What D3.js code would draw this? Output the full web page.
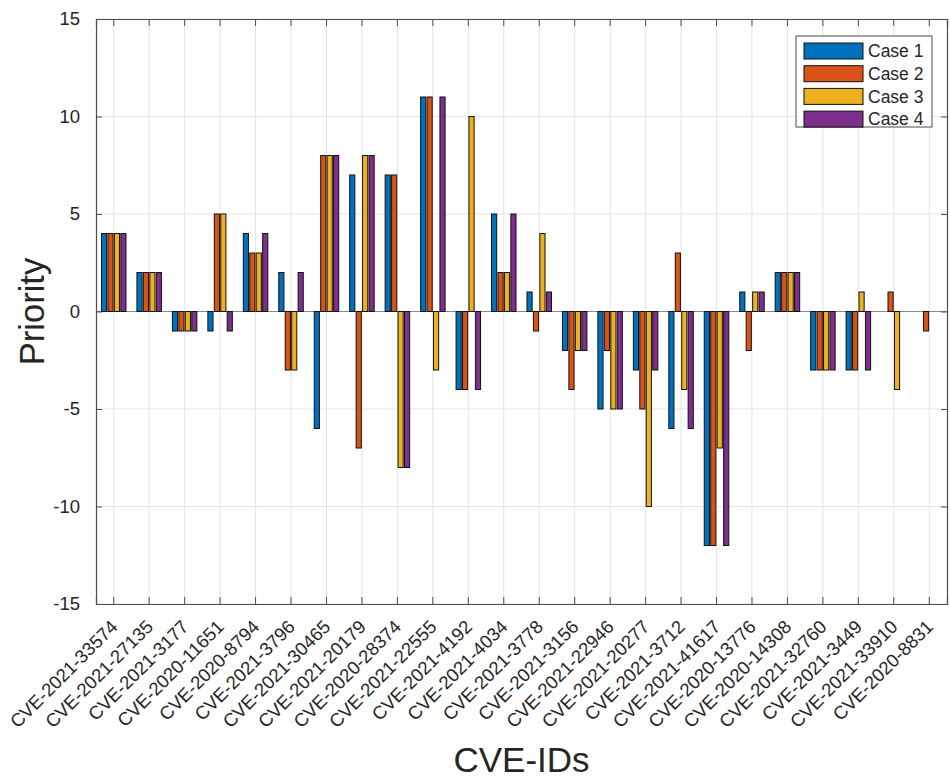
<!DOCTYPE html>
<html>
<head>
<meta charset="utf-8">
<script src="https://cdn.jsdelivr.net/npm/d3@7"></script>
<style>
  body { margin: 0; background: #fff; }
  text { font-family: "Liberation Sans", Arial, Helvetica, sans-serif; fill: #262626; }
</style>
</head>
<body>
<div id="chart"></div>
<script>
var cveIds = [
  "CVE-2021-33574", "CVE-2021-27135", "CVE-2021-3177", "CVE-2020-11651",
  "CVE-2020-8794", "CVE-2021-3796", "CVE-2021-30465", "CVE-2021-20179",
  "CVE-2020-28374", "CVE-2021-22555", "CVE-2021-4192", "CVE-2021-4034",
  "CVE-2021-3778", "CVE-2021-3156", "CVE-2021-22946", "CVE-2021-20277",
  "CVE-2021-3712", "CVE-2021-41617", "CVE-2020-13776", "CVE-2020-14308",
  "CVE-2021-32760", "CVE-2021-3449", "CVE-2021-33910", "CVE-2020-8831"
];
var caseNames = ["Case 1", "Case 2", "Case 3", "Case 4"];
var case1 = [4, 2, -1, -1, 4, 2, -6, 7, 7, 11, -4, 5, 1, -2, -5, -3, -6, -12, 1, 2, -3, -3, 0, 0];
var case2 = [4, 2, -1, 5, 3, -3, 8, -7, 7, 11, -4, 2, -1, -4, -2, -5, 3, -12, -2, 2, -3, -3, 1, -1];
var case3 = [4, 2, -1, 5, 3, -3, 8, 8, -8, -3, 10, 2, 4, -2, -5, -10, -4, -7, 1, 2, -3, 1, -4, 0];
var case4 = [4, 2, -1, -1, 4, 2, 8, 8, -8, 11, -4, 5, 1, -2, -5, -3, -6, -12, 1, 2, -3, -3, 0, 0];
var yTicks = [-15, -10, -5, 0, 5, 10, 15];
var colors = ["#0072BD", "#D95319", "#EDB120", "#7E2F8E"];

var allCases = [case1, case2, case3, case4];
var rows = cveIds.map(function (id, i) {
  return {
    id: id,
    values: caseNames.map(function (c, j) {
      return { name: c, value: allCases[j][i] };
    })
  };
});

var width = 950;
var height = 778;
var margin = { left: 96, right: 3, top: 19, bottom: 174 };
var plotW = width - margin.left - margin.right;
var plotH = height - margin.top - margin.bottom;

var svg = d3.select("#chart")
  .append("svg")
  .attr("width", width)
  .attr("height", height);

var g = svg.append("g")
  .attr("transform", "translate(" + margin.left + "," + margin.top + ")");

var x0 = d3.scaleBand().domain(cveIds).range([0, plotW]).padding(0);
var bw = x0.bandwidth();
// matlab grouped bar: group takes n/(n+1.5) of the slot
var groupW = 4 / 5.5;
var x1 = d3.scaleBand()
  .domain(caseNames)
  .range([bw * (1 - groupW) / 2, bw * (1 + groupW) / 2])
  .paddingInner(0.2)
  .paddingOuter(0.1);
var y = d3.scaleLinear().domain([-15, 15]).range([plotH, 0]);
var color = d3.scaleOrdinal().domain(caseNames).range(colors);

// grid
g.append("g")
  .selectAll("line")
  .data(cveIds)
  .enter()
  .append("line")
  .attr("x1", function (d) { return x0(d) + bw / 2; })
  .attr("x2", function (d) { return x0(d) + bw / 2; })
  .attr("y1", 0)
  .attr("y2", plotH)
  .attr("stroke", "#e3e3e3")
  .attr("stroke-width", 1);

g.append("g")
  .selectAll("line")
  .data(yTicks)
  .enter()
  .append("line")
  .attr("x1", 0)
  .attr("x2", plotW)
  .attr("y1", function (d) { return y(d); })
  .attr("y2", function (d) { return y(d); })
  .attr("stroke", "#e3e3e3")
  .attr("stroke-width", 1);

// baseline
g.append("line")
  .attr("x1", 0)
  .attr("x2", plotW)
  .attr("y1", y(0))
  .attr("y2", y(0))
  .attr("stroke", "#8a8a8a")
  .attr("stroke-width", 1);

// bars
var groups = g.selectAll("g.cve")
  .data(rows)
  .enter()
  .append("g")
  .attr("class", "cve")
  .attr("transform", function (d) { return "translate(" + x0(d.id) + ",0)"; });

groups.selectAll("rect")
  .data(function (d) { return d.values; })
  .enter()
  .append("rect")
  .attr("x", function (d) { return x1(d.name); })
  .attr("width", x1.bandwidth())
  .attr("y", function (d) { return y(Math.max(0, d.value)); })
  .attr("height", function (d) { return Math.abs(y(d.value) - y(0)); })
  .attr("fill", function (d) { return color(d.name); })
  .attr("stroke", function (d) { return d.value === 0 ? "none" : "#111"; })
  .attr("stroke-width", 1);

// axes (box with inward ticks)
var axisColor = "#4d4d4d";
var xAxisB = d3.axisBottom(x0).tickSize(-7).tickFormat("");
var xAxisT = d3.axisTop(x0).tickSize(-7).tickFormat("");
var yAxisL = d3.axisLeft(y).tickValues(yTicks).tickSize(-6).tickPadding(16)
  .tickFormat(function (d) { return String(d); });
var yAxisR = d3.axisRight(y).tickValues(yTicks).tickSize(-6).tickFormat("");

var gxB = g.append("g").attr("transform", "translate(0," + plotH + ")").call(xAxisB);
var gxT = g.append("g").call(xAxisT);
var gyL = g.append("g").call(yAxisL);
var gyR = g.append("g").attr("transform", "translate(" + plotW + ",0)").call(yAxisR);

[gxB, gxT, gyL, gyR].forEach(function (a) {
  a.selectAll("path").attr("stroke", axisColor).attr("stroke-width", 1.2);
  a.selectAll("line").attr("stroke", axisColor);
});

gyL.attr("font-size", null).attr("font-family", null);
gyL.selectAll("text")
  .style("font-size", "18.5px")
  .attr("fill", "#262626");

// rotated x tick labels
g.append("g")
  .selectAll("text")
  .data(cveIds)
  .enter()
  .append("text")
  .attr("transform", function (d) {
    return "translate(" + (x0(d) + bw / 2 + 5) + "," + (plotH + 24) + ") rotate(-45)";
  })
  .attr("text-anchor", "end")
  .style("font-size", "18.5px")
  .text(function (d) { return d; });

// axis titles
svg.append("text")
  .attr("x", margin.left + plotW / 2)
  .attr("y", 772)
  .attr("text-anchor", "middle")
  .style("font-size", "35px")
  .text("CVE-IDs");

svg.append("text")
  .attr("transform", "translate(44," + (margin.top + plotH / 2) + ") rotate(-90)")
  .attr("text-anchor", "middle")
  .style("font-size", "34.5px")
  .text("Priority");

// legend
var legend = svg.append("g").attr("transform", "translate(796,36)");
legend.append("rect")
  .attr("width", 136)
  .attr("height", 91)
  .attr("fill", "#fff")
  .attr("stroke", "#4d4d4d")
  .attr("stroke-width", 1);

var items = legend.selectAll("g.item")
  .data(caseNames)
  .enter()
  .append("g")
  .attr("class", "item")
  .attr("transform", function (d, i) { return "translate(8," + (7 + i * 22.7) + ")"; });

items.append("rect")
  .attr("width", 59)
  .attr("height", 16)
  .attr("fill", function (d) { return color(d); })
  .attr("stroke", "#111")
  .attr("stroke-width", 1);

items.append("text")
  .attr("x", 64)
  .attr("y", 8)
  .attr("dy", "0.36em")
  .style("font-size", "17.5px")
  .text(function (d) { return d; });
</script>
</body>
</html>
